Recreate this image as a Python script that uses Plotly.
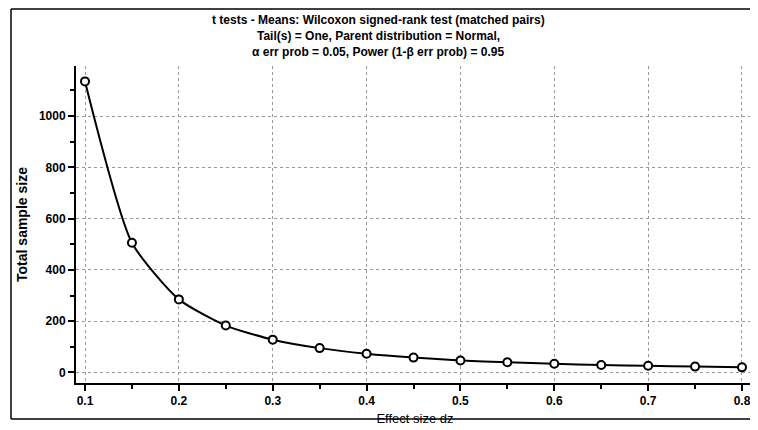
import plotly.graph_objects as go

effect_size = [0.10, 0.15, 0.20, 0.25, 0.30, 0.35, 0.40, 0.45, 0.50, 0.55, 0.60, 0.65, 0.70, 0.75, 0.80]
sample_size = [1135, 506, 285, 183, 128, 95, 73, 58, 47, 40, 34, 29, 26, 23, 20]
x_ticks = [0.1, 0.2, 0.3, 0.4, 0.5, 0.6, 0.7, 0.8]
y_ticks = [0, 200, 400, 600, 800, 1000]

title_lines = [
    "t tests - Means: Wilcoxon signed-rank test (matched pairs)",
    "Tail(s) = One, Parent distribution = Normal,",
    "α err prob = 0.05, Power (1-β err prob) = 0.95",
]

# page body has an 8px margin, so the figure is drawn 8px in from the window corner
OFF = 8
W, H = 758 - OFF, 430 - OFF
ML, MR, MT, MB = 76 - OFF, 4, 66 - OFF, 430 - 383

fig = go.Figure()
fig.add_trace(go.Scatter(
    x=effect_size, y=sample_size, mode="lines+markers",
    line=dict(color="black", width=2, shape="spline", smoothing=0.6),
    marker=dict(symbol="circle", size=8, color="white", line=dict(color="black", width=2)),
    showlegend=False,
))

tickfont = dict(family="Liberation Sans, Arial", size=12, color="black", weight="bold")
fig.update_layout(
    width=W, height=H,
    margin=dict(l=ML, r=MR, t=MT, b=MB, autoexpand=False),
    paper_bgcolor="white", plot_bgcolor="white",
    xaxis=dict(range=[0.0904, 0.8128], tickvals=x_ticks, ticktext=[str(v) for v in x_ticks],
               automargin=False,
               showgrid=True, gridcolor="#9a9a9a", griddash="dot", gridwidth=1,
               showline=True, linecolor="black", linewidth=2,
               ticks="outside", ticklen=6, tickwidth=2, tickcolor="black",
               minor=dict(tickvals=[0.15, 0.25, 0.35, 0.45, 0.55, 0.65, 0.75], ticks="outside",
                          ticklen=4, tickwidth=1.5, tickcolor="black", showgrid=False),
               tickfont=tickfont, zeroline=False,
               title=dict(text="Effect size dz", standoff=6,
                          font=dict(family="Liberation Sans, Arial", size=13, color="black"))),
    yaxis=dict(range=[-41, 1195], tickvals=y_ticks,
               automargin=False,
               showgrid=True, gridcolor="#9a9a9a", griddash="dot", gridwidth=1,
               showline=True, linecolor="black", linewidth=2,
               ticks="outside", ticklen=6, tickwidth=2, tickcolor="black",
               minor=dict(tickvals=[100, 300, 500, 700, 900, 1100], ticks="outside",
                          ticklen=4, tickwidth=1.5, tickcolor="black", showgrid=False),
               tickfont=tickfont, zeroline=False,
               title=dict(text="Total sample size", standoff=8,
                          font=dict(family="Liberation Sans, Arial", size=14, color="black", weight="bold"))),
)

pw, ph = W - ML - MR, H - MT - MB
def px(xp): return (xp - OFF - ML) / pw
def py(yp): return (H - MB - (yp - OFF)) / ph

# title as three centred lines (window pixel positions)
for line, ypix in zip(title_lines, [20, 36, 52]):
    fig.add_annotation(text=line, xref="paper", yref="paper", x=px(378), y=py(ypix),
                       xanchor="center", yanchor="middle", showarrow=False,
                       font=dict(family="Liberation Sans, Arial", size=12,
                                 color="black", weight="bold"))

# outer frame (left, top, bottom)
frame = dict(color="black", width=1.5)
fig.add_shape(type="line", xref="paper", yref="paper", x0=px(11), x1=px(756), y0=py(9), y1=py(9), line=frame)
fig.add_shape(type="line", xref="paper", yref="paper", x0=px(11), x1=px(11), y0=py(9), y1=py(419), line=frame)
fig.add_shape(type="line", xref="paper", yref="paper", x0=px(11), x1=px(756), y0=py(419), y1=py(419), line=frame)

fig.write_html("out.html")
